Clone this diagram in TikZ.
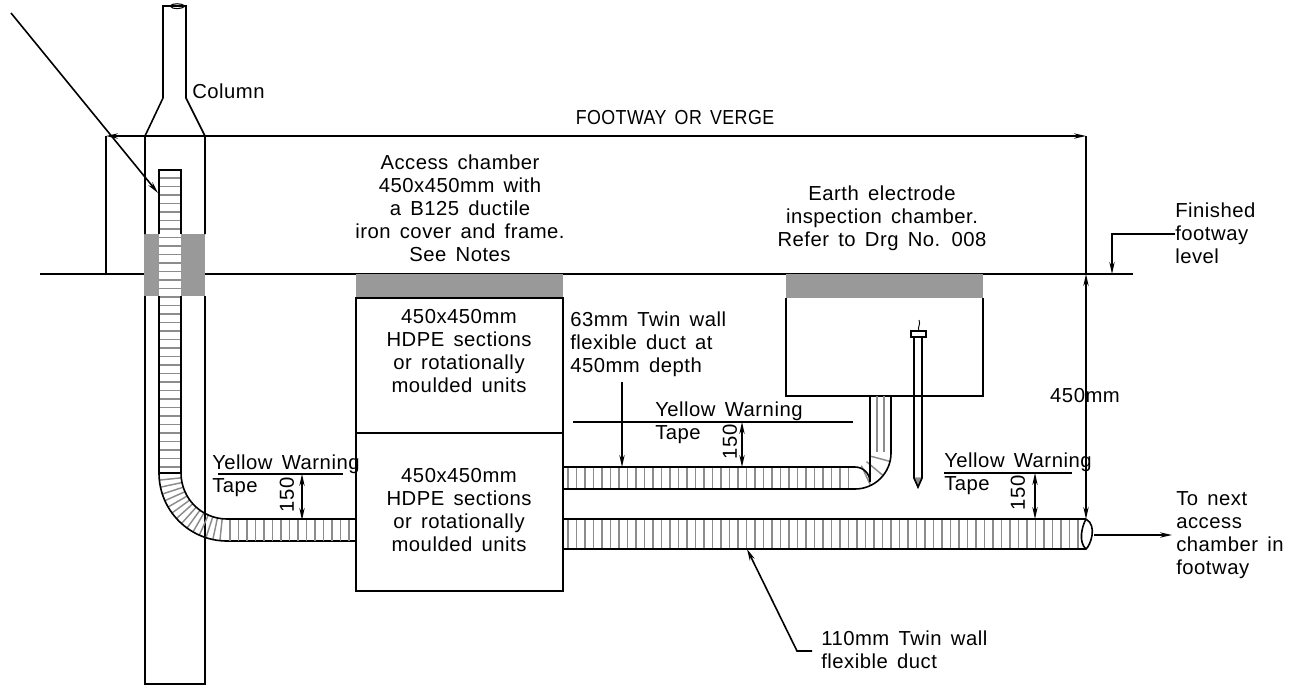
\documentclass[tikz,border=0pt]{standalone}
\usepackage{fontspec}
\setmainfont[WordSpace=1.5,LetterSpace=2.5]{Liberation Sans}
\usetikzlibrary{arrows.meta}
\tikzset{
  x=0.75pt,y=-0.75pt,
  >={Stealth[length=9pt,width=4pt]},
  line/.style={black,line width=1.2pt},
  rib/.style={black!45,line width=1.1pt},
  label/.style={inner sep=0pt,align=left,anchor=west,font=\fontsize{15.2}{17.2}\selectfont},
  blocklabel/.style={inner sep=0pt,align=center,font=\fontsize{15.2}{17.2}\selectfont},
  cover/.style={fill=black!40,draw=none}
}
\begin{document}
\begin{tikzpicture}
      \useasboundingbox (0,0) rectangle (1306,686);
      % column
      \fill[cover] (144,234) rectangle (205,296);
      \draw[line] (163,98) -- (163,6) -- (186,6) -- (186,98) -- (205,136) -- (205,234);
      \draw[line] (163,98) -- (145,136) -- (145,234);
      \draw[line] (145,296) -- (145,684) -- (205,684) -- (205,296);
      \draw[line] (145,136) -- (205,136);
      \draw[line,line width=0.8pt] (170,6) .. controls (172,10) and (183,9) .. (185,6) .. controls (182,3) and (172,3) .. (170,6);
      % duct up the column
      \fill[white] (159,170) rectangle (181,296);
      \foreach \y in {178,186.5,...,472} \draw[rib] (159,\y) -- (181,\y);
      \draw[rib] (159,170) -- (181,170);
      \draw[line] (159,234) -- (159,170) -- (181,170) -- (181,234);
      \draw[line] (159,296) -- (159,473);
      \draw[line] (181,296) -- (181,473);
      \draw[line] (159,473) -- (181,473);
      % bend
      \foreach \a in {96,102,...,174} \draw[rib] ({227+46*cos(\a)},{473+46*sin(\a)}) -- ({227+68*cos(\a)},{473+68*sin(\a)});
      \draw[line] (159,473) arc[start angle=180,end angle=270,radius=51pt] -- (356,541);
      \draw[line] (181,473) arc[start angle=180,end angle=270,radius=34.5pt] -- (356,519);
      \foreach \x in {230,238.5,...,352} \draw[rib] (\x,520) -- (\x,541);
      % ground and footway
      \draw[line] (40,274) -- (144,274);
      \draw[line] (205,274) -- (1133,274);
      \draw[line] (106,274) -- (106,136);
      \draw[line] (1086,136) -- (1086,274);
      % chambers
      \fill[cover] (356,274) rectangle (563,298);
      \draw[line] (356,298) rectangle (563,591);
      \draw[line] (356,433) -- (563,433);
      \fill[cover] (786,274) rectangle (983,298);
      \draw[line] (786,298) -- (786,396) -- (983,396) -- (983,298);
      % 63mm duct
      \foreach \x in {568,576.5,...,852} \draw[rib] (\x,467) -- (\x,489);
      \foreach \a in {15,40,65} \draw[rib] ({855+15*cos(\a)},{452+15*sin(\a)}) -- ({855+36*cos(\a)},{452+36*sin(\a)});
      \foreach \x in {877,884} \draw[rib] (\x,396) -- (\x,452);
      \draw[line] (563,467) -- (855,467) arc[start angle=90,end angle=0,radius=11.25pt] -- (870,396);
      \draw[line] (563,489) -- (855,489) arc[start angle=270,end angle=360,radius=27pt] -- (891,396);
      % 110mm duct
      \foreach \x in {568,576.5,...,1082} \draw[rib] (\x,519) -- (\x,549);
      \draw[line] (563,519) -- (1086,519);
      \draw[line] (563,549) -- (1086,549);
      \draw[line] (1086,519) .. controls (1098,526) and (1090,546) .. (1086,549) .. controls (1078,542) and (1082,526) .. (1086,519);
      % earth electrode
      \draw[rib,fill=black!45] (914,478) -- (922,478) -- (918,487) -- cycle;
      \draw[line] (914,338) -- (914,478) -- (918,487) -- (922,478) -- (922,338);
      \draw[line,line width=0.9pt] (911,331) rectangle (926,337);
      \draw[line,line width=0.7pt] (919,331) .. controls (917,327) and (921,325) .. (919,320);
      % tapes
      \draw[line] (218,474) -- (343,474);
      \draw[line] (573,422) -- (853,422);
      \draw[line] (944,473) -- (1072,473);
      % labels
      \draw
      (192,91) node[label](column){Column}
      (675,118) node[blocklabel,xscale=0.88,transform shape](footway){FOOTWAY OR VERGE}
      (460,208) node[blocklabel](access){Access chamber\\450x450mm with\\a B125 ductile\\iron cover and frame.\\See Notes}
      (882,218) node[blocklabel](earth){Earth electrode\\inspection chamber.\\Refer to Drg No. 008}
      (459,351) node[blocklabel](upper){450x450mm\\HDPE sections\\or rotationally\\moulded units}
      (459,510) node[blocklabel](lower){450x450mm\\HDPE sections\\or rotationally\\moulded units}
      (570,344) node[label](smallduct){63mm Twin wall\\flexible duct at\\450mm depth}
      (1175,233) node[label](finished){Finished\\footway\\level}
      (1176,535) node[label](next){To next\\access\\chamber in\\footway}
      (821,650) node[label](bigduct){110mm Twin wall\\flexible duct}
      (1085,396) node[blocklabel](depth){450mm}
      (212,476) node[label](tapeleft){Yellow Warning\\Tape}
      (655,423) node[label](tapemid){Yellow Warning\\Tape}
      (944,474) node[label](taperight){Yellow Warning\\Tape}
      (287,495) node[blocklabel,rotate=90](dimleft){150}
      (730,442) node[blocklabel,rotate=90](dimmid){150}
      (1018,493) node[blocklabel,rotate=90](dimright){150};
      % leaders and dimensions
      \coordinate (pointer) at (11,13);
      \coordinate (pointertip) at (158,193);
      \coordinate (wayleft) at (106,136);
      \coordinate (wayright) at (1086,136);
      \coordinate (levelbend) at (1112,234);
      \coordinate (leveltip) at (1112,274);
      \coordinate (depthtop) at (1086,274);
      \coordinate (depthbottom) at (1086,519);
      \coordinate (nextstart) at (1094,535);
      \coordinate (nexttip) at (1172,535);
      \coordinate (bigbend) at (797,651);
      \coordinate (bigend) at (812,651);
      \coordinate (bigtip) at (747,549);
      \coordinate (smallstart) at (622,382);
      \coordinate (smalltip) at (622,467);
      \draw[line,->] (pointer) -- (pointertip);
      \draw[line,<->] (wayleft) -- (wayright);
      \draw[line,->] (finished.west |- levelbend) -- (levelbend) -- (leveltip);
      \draw[line,<->] (depthtop) -- (depthbottom);
      \draw[line,->] (nextstart) -- (nexttip);
      \draw[line,->] (bigend) -- (bigbend) -- (bigtip);
      \draw[line,->] (smallstart) -- (smalltip);
      \coordinate (leftA) at (302,474);
      \coordinate (leftB) at (302,520);
      \coordinate (midA) at (742,422);
      \coordinate (midB) at (742,467);
      \coordinate (rightA) at (1035,473);
      \coordinate (rightB) at (1035,519);
      \draw[line,<->] (leftA) -- (leftB);
      \draw[line,<->] (midA) -- (midB);
      \draw[line,<->] (rightA) -- (rightB);
    \end{tikzpicture}
\end{document}
